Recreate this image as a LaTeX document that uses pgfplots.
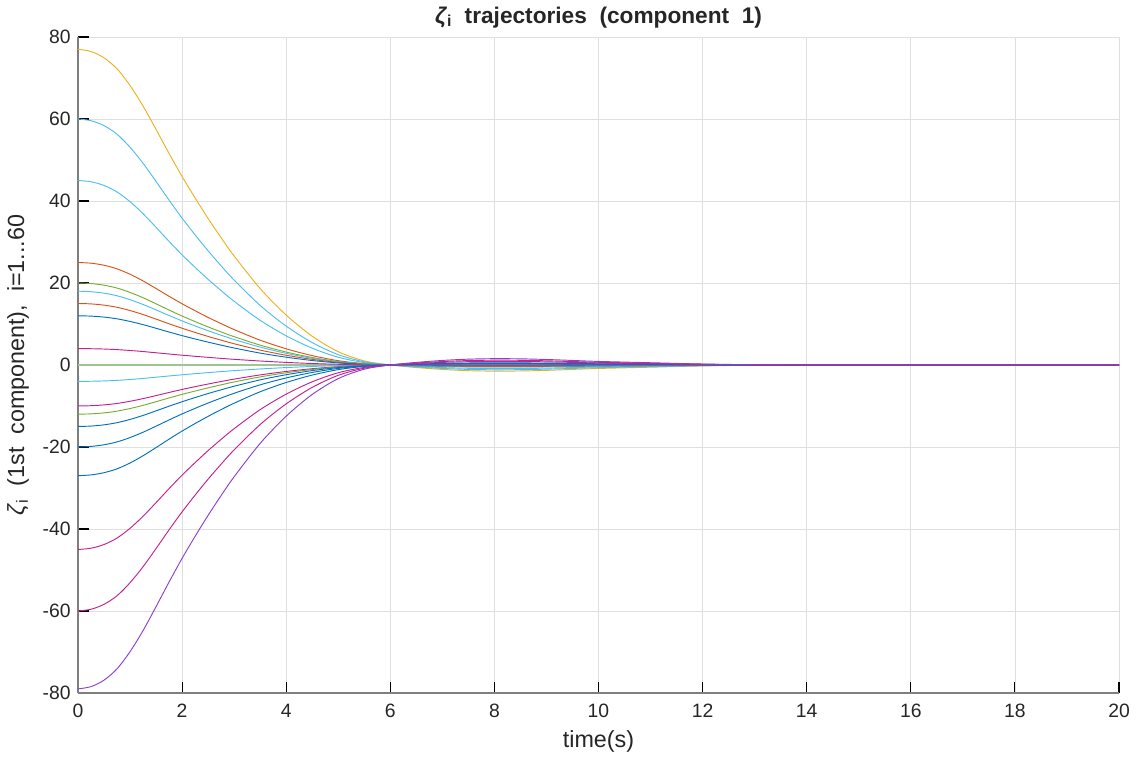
\documentclass[border=0pt]{standalone}
\usepackage{fontspec}
\setmainfont{Liberation Sans}
\usepackage{pgfplots}
\usepackage{pgfplotstable}
\pgfplotsset{compat=1.18}
\definecolor{cY}{HTML}{EDB120}
\definecolor{cC}{HTML}{4DBEEE}
\definecolor{cO}{HTML}{D95319}
\definecolor{cG}{HTML}{77AC30}
\definecolor{cB}{HTML}{0072BD}
\definecolor{cM}{HTML}{C4208F}
\definecolor{cP}{HTML}{8B3FD0}
\definecolor{cZ}{HTML}{9CC794}
\definecolor{txtc}{HTML}{262626}
\definecolor{axl}{HTML}{7F7F7F}
\definecolor{grd}{HTML}{DFDFDF}

\pgfplotstableread{
t    p77    p60    p45    p25    p20    p18    p15    p12    p4    z0  m4    m10    m12    m15    m20    m27    m45    m60    m79
0    77     60     45     25     20     18     15     12     4     0   -4    -10    -12    -15    -20    -27    -45    -60    -79
0.25 76.46  59.58  44.69  24.83  19.86  17.87  14.9   11.92  3.97  0   -3.97 -9.93  -11.92 -14.9  -19.86 -26.81 -44.69 -59.58 -78.45
0.5  74.92  58.38  43.79  24.33  19.46  17.51  14.6   11.68  3.89  0   -3.89 -9.73  -11.68 -14.6  -19.46 -26.27 -43.79 -58.38 -76.87
0.75 72.23  56.28  42.21  23.45  18.76  16.88  14.07  11.26  3.75  0   -3.75 -9.38  -11.26 -14.07 -18.76 -25.33 -42.21 -56.28 -74.1
1    68.15  53.1   39.83  22.13  17.7   15.93  13.28  10.62  3.54  0   -3.54 -8.85  -10.62 -13.28 -17.7  -23.9  -39.83 -53.1  -69.92
1.25 63.14  49.2   36.9   20.5   16.4   14.76  12.3   9.84   3.28  0   -3.28 -8.2   -9.84  -12.3  -16.4  -22.14 -36.9  -49.2  -64.78
1.5  57.44  44.76  33.57  18.65  14.92  13.43  11.19  8.95   2.98  0   -2.98 -7.46  -8.95  -11.19 -14.92 -20.14 -33.57 -44.76 -58.93
1.75 51.59  40.2   30.15  16.75  13.4   12.06  10.05  8.04   2.68  0   -2.68 -6.7   -8.04  -10.05 -13.4  -18.09 -30.15 -40.2  -52.93
2    45.97  35.82  26.87  14.93  11.94  10.75  8.96   7.16   2.39  0   -2.39 -5.97  -7.16  -8.96  -11.94 -16.12 -26.87 -35.82 -47.16
2.25 40.73  31.74  23.81  13.23  10.58  9.52   7.94   6.35   2.12  0   -2.12 -5.29  -6.35  -7.94  -10.58 -14.28 -23.81 -31.74 -41.79
2.5  35.73  27.84  20.88  11.6   9.28   8.35   6.96   5.57   1.86  0   -1.86 -4.64  -5.57  -6.96  -9.28  -12.53 -20.88 -27.84 -36.66
2.75 31.03  24.18  18.14  10.08  8.06   7.25   6.05   4.84   1.61  0   -1.61 -4.03  -4.84  -6.05  -8.06  -10.88 -18.14 -24.18 -31.84
3    26.57  20.7   15.53  8.63   6.9    6.21   5.18   4.14   1.38  0   -1.38 -3.45  -4.14  -5.18  -6.9   -9.32  -15.53 -20.7  -27.26
3.5  18.63  14.52  10.89  6.05   4.84   4.36   3.63   2.9    0.97  0   -0.97 -2.42  -2.9   -3.63  -4.84  -6.53  -10.89 -14.52 -19.12
4    12.17  9.48   7.11   3.95   3.16   2.84   2.37   1.9    0.63  0   -0.63 -1.58  -1.9   -2.37  -3.16  -4.27  -7.11  -9.48  -12.48
4.5  7.01   5.46   4.1    2.28   1.82   1.64   1.37   1.09   0.36  0   -0.36 -0.91  -1.09  -1.37  -1.82  -2.46  -4.1   -5.46  -7.19
5    3.23   2.52   1.89   1.05   0.84   0.76   0.63   0.5    0.17  0   -0.17 -0.42  -0.5   -0.63  -0.84  -1.13  -1.89  -2.52  -3.32
5.5  1.0    0.78   0.59   0.33   0.26   0.23   0.2    0.16   0.05  0   -0.05 -0.13  -0.16  -0.2   -0.26  -0.35  -0.59  -0.78  -1.03
6    0      0      0      0      0      0      0      0      0     0   0     0      0      0      0      0      0      0      0
6.5  -0.62  -0.48  -0.36  -0.2   -0.16  -0.14  -0.12  -0.1   -0.03 0   0.03  0.08   0.1    0.12   0.16   0.22   0.36   0.48   0.63
7    -1.08  -0.84  -0.63  -0.35  -0.28  -0.25  -0.21  -0.17  -0.06 0   0.06  0.14   0.17   0.21   0.28   0.38   0.63   0.84   1.11
7.5  -1.39  -1.08  -0.81  -0.45  -0.36  -0.32  -0.27  -0.22  -0.07 0   0.07  0.18   0.22   0.27   0.36   0.49   0.81   1.08   1.42
8    -1.5   -1.17  -0.88  -0.49  -0.39  -0.35  -0.29  -0.23  -0.08 0   0.08  0.2    0.23   0.29   0.39   0.53   0.88   1.17   1.54
8.5  -1.46  -1.14  -0.86  -0.48  -0.38  -0.34  -0.29  -0.23  -0.08 0   0.08  0.19   0.23   0.29   0.38   0.51   0.86   1.14   1.5
9    -1.31  -1.02  -0.77  -0.43  -0.34  -0.31  -0.26  -0.2   -0.07 0   0.07  0.17   0.2    0.26   0.34   0.46   0.77   1.02   1.34
9.5  -1.08  -0.84  -0.63  -0.35  -0.28  -0.25  -0.21  -0.17  -0.06 0   0.06  0.14   0.17   0.21   0.28   0.38   0.63   0.84   1.11
10   -0.85  -0.66  -0.5   -0.28  -0.22  -0.2   -0.17  -0.13  -0.04 0   0.04  0.11   0.13   0.17   0.22   0.3    0.5    0.66   0.87
11   -0.54  -0.42  -0.32  -0.18  -0.14  -0.13  -0.11  -0.08  -0.03 0   0.03  0.07   0.08   0.11   0.14   0.19   0.32   0.42   0.55
12   -0.23  -0.18  -0.14  -0.08  -0.06  -0.05  -0.05  -0.04  -0.01 0   0.01  0.03   0.04   0.05   0.06   0.08   0.14   0.18   0.24
13   -0.05  -0.04  -0.03  -0.02  -0.01  -0.01  -0.01  -0.01  0     0   0     0.01   0.01   0.01   0.01   0.02   0.03   0.04   0.06
14   0      0      0      0      0      0      0      0      0     0   0     0      0      0      0      0      0      0      0
20   0      0      0      0      0      0      0      0      0     0   0     0      0      0      0      0      0      0      0
}\zdata

\begin{document}
\begin{tikzpicture}
\begin{axis}[
  width=780.75pt, height=492pt, scale only axis,
  xmin=0, xmax=20, ymin=-80, ymax=80,
  xtick={0,2,...,20}, ytick={-80,-60,...,80},
  grid=major, major grid style={draw=grd, line width=0.6pt},
  axis x line*=bottom, axis y line*=left,
  axis line style={draw=axl, line width=1.3pt},
  tick align=inside, major tick length=8pt,
  tick style={black, line width=0.8pt},
  /pgf/number format/assume math mode=true,
  ticklabel style={font=\fontsize{14.5}{16}\selectfont, color=txtc},
  xticklabel style={yshift=-5pt},
  yticklabel style={xshift=-2pt},
  title={\textit{ζ}\textsubscript{i}\ \ trajectories\ \ (component\ \ 1)},
  title style={font=\bfseries\fontsize{17}{19}\selectfont, color=txtc,
    at={(axis description cs:0.5,1.0297)}, anchor=center, yshift=-6pt},
  xlabel={time(s)},
  ylabel={\textit{ζ}\textsubscript{i}\ \ (1st\ \ component),\ \ i=1...60},
  label style={font=\fontsize{17.5}{19}\selectfont, color=txtc},
  xlabel style={at={(axis description cs:0.5,-0.0732)}, anchor=center},
  ylabel style={at={(axis description cs:-0.0576,0.5)}, anchor=center},
  no markers,
]
\addplot[cZ, line width=1.2pt, smooth] table[x=t, y=z0] {\zdata};
\addplot[cY, line width=0.7pt, smooth] table[x=t, y=p77] {\zdata};
\addplot[cC, line width=0.7pt, smooth] table[x=t, y=p60] {\zdata};
\addplot[cC, line width=0.7pt, smooth] table[x=t, y=p45] {\zdata};
\addplot[cO, line width=0.7pt, smooth] table[x=t, y=p25] {\zdata};
\addplot[cG, line width=0.7pt, smooth] table[x=t, y=p20] {\zdata};
\addplot[cC, line width=0.7pt, smooth] table[x=t, y=p18] {\zdata};
\addplot[cO, line width=0.7pt, smooth] table[x=t, y=p15] {\zdata};
\addplot[cB, line width=0.7pt, smooth] table[x=t, y=p12] {\zdata};
\addplot[cM, line width=0.7pt, smooth] table[x=t, y=p4] {\zdata};
\addplot[cC, line width=0.7pt, smooth] table[x=t, y=m4] {\zdata};
\addplot[cM, line width=0.7pt, smooth] table[x=t, y=m10] {\zdata};
\addplot[cG, line width=0.7pt, smooth] table[x=t, y=m12] {\zdata};
\addplot[cB, line width=0.7pt, smooth] table[x=t, y=m15] {\zdata};
\addplot[cB, line width=0.7pt, smooth] table[x=t, y=m20] {\zdata};
\addplot[cB, line width=0.7pt, smooth] table[x=t, y=m27] {\zdata};
\addplot[cM, line width=0.7pt, smooth] table[x=t, y=m45] {\zdata};
\addplot[cM, line width=0.7pt, smooth] table[x=t, y=m60] {\zdata};
\addplot[cP, line width=0.7pt, smooth] table[x=t, y=m79] {\zdata};
\end{axis}
\pgfresetboundingbox
\path ([shift={(-58.5pt,-50.25pt)}]current axis.south west) rectangle ([shift={(12.75pt,27.75pt)}]current axis.north east);
\end{tikzpicture}
\end{document}
